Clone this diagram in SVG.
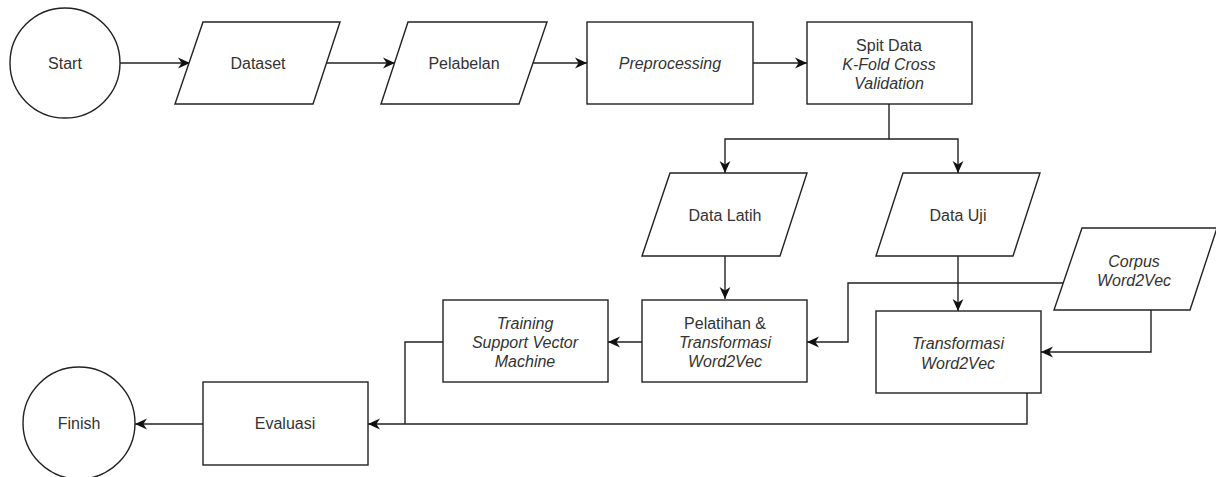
<svg xmlns="http://www.w3.org/2000/svg" width="1216" height="477" viewBox="0 0 1216 477">
<style>
.s{fill:#fff;stroke:#222;stroke-width:1.4}
.c{fill:none;stroke:#222;stroke-width:1.4}
text{font-family:"Liberation Sans",Arial,sans-serif;font-size:16px;fill:#333;text-anchor:middle}
.i{font-style:italic}
</style>
<defs>
<marker id="a" viewBox="0 0 10 10" refX="10" refY="5" markerWidth="12" markerHeight="12" markerUnits="userSpaceOnUse" orient="auto">
<path d="M0,0.5 L10,5 L0,9.5 L3,5 z" fill="#111"/>
</marker>
</defs>
<rect width="1216" height="477" fill="#fff"/>
<g id="connectors">
<path class="c" d="M120,63 L190,63" marker-end="url(#a)"/>
<path class="c" d="M327,63 L395,63" marker-end="url(#a)"/>
<path class="c" d="M533,63 L587,63" marker-end="url(#a)"/>
<path class="c" d="M753,63 L807,63" marker-end="url(#a)"/>
<path class="c" d="M889,104 L889,139 L725,139 L725,173" marker-end="url(#a)"/>
<path class="c" d="M889,139 L958,139 L958,173" marker-end="url(#a)"/>
<path class="c" d="M725,256 L725,299" marker-end="url(#a)"/>
<path class="c" d="M958,256 L958,311" marker-end="url(#a)"/>
<path class="c" d="M1063,283 L848,283 L848,342 L807,342" marker-end="url(#a)"/>
<path class="c" d="M1151,310 L1151,352 L1041,352" marker-end="url(#a)"/>
<path class="c" d="M642,342 L608,342" marker-end="url(#a)"/>
<path class="c" d="M443,342 L405,342 L405,424" />
<path class="c" d="M1027,393 L1027,424 L368,424" marker-end="url(#a)"/>
<path class="c" d="M203,424 L135,424" marker-end="url(#a)"/>
</g>
<g id="start"><circle class="s" cx="65" cy="63" r="55"/><text x="65" y="69">Start</text></g>
<g id="dataset"><polygon class="s" points="203,22 340,22 313,104 175,104"/><text x="258" y="69">Dataset</text></g>
<g id="pelabelan"><polygon class="s" points="408,22 547,22 519,104 381,104"/><text x="464" y="69">Pelabelan</text></g>
<g id="preprocessing"><rect class="s" x="587" y="22" width="166" height="82"/><text class="i" x="670" y="69">Preprocessing</text></g>
<g id="split"><rect class="s" x="807" y="22" width="165" height="82"/><text x="889" y="51">Spit Data</text><text class="i" x="889" y="70">K-Fold Cross</text><text class="i" x="889" y="89">Validation</text></g>
<g id="datalatih"><polygon class="s" points="670,173 807,173 780,256 642,256"/><text x="725" y="221">Data Latih</text></g>
<g id="datauji"><polygon class="s" points="903,173 1040,173 1013,256 876,256"/><text x="958" y="221">Data Uji</text></g>
<g id="corpus"><polygon class="s" points="1082,228 1217,228 1190,310 1054,310"/><text class="i" x="1134" y="267">Corpus</text><text class="i" x="1134" y="286">Word2Vec</text></g>
<g id="pelatihan"><rect class="s" x="642" y="300" width="165" height="82"/><text x="725" y="329">Pelatihan &amp;</text><text class="i" x="725" y="348">Transformasi</text><text class="i" x="725" y="367">Word2Vec</text></g>
<g id="training"><rect class="s" x="443" y="300" width="165" height="82"/><text class="i" x="525" y="329">Training</text><text class="i" x="525" y="348">Support Vector</text><text class="i" x="525" y="367">Machine</text></g>
<g id="transformasi"><rect class="s" x="876" y="311" width="165" height="82"/><text class="i" x="958" y="349">Transformasi</text><text class="i" x="958" y="369">Word2Vec</text></g>
<g id="evaluasi"><rect class="s" x="203" y="382" width="165" height="83"/><text x="285" y="429">Evaluasi</text></g>
<g id="finish"><circle class="s" cx="79" cy="423" r="56"/><text x="79" y="429">Finish</text></g>
</svg>
